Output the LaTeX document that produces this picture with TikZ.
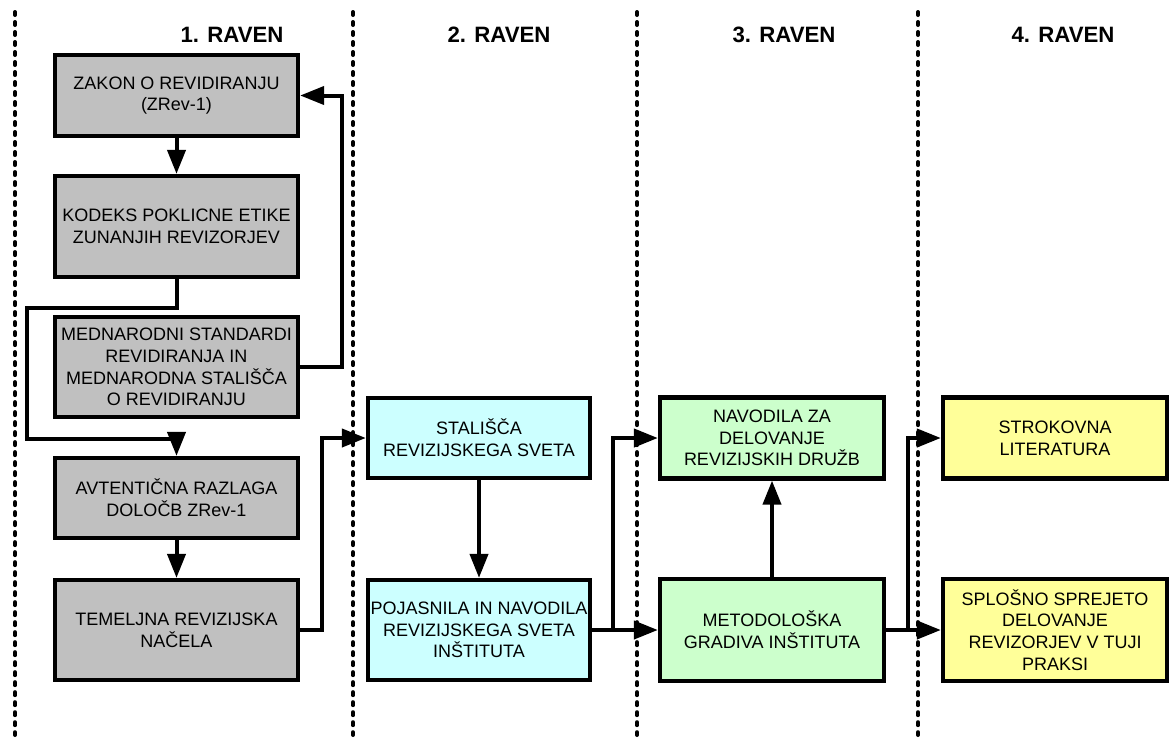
\documentclass[tikz,border=0pt]{standalone}
\usepackage{fontspec}
\setmainfont{Liberation Sans}
\usepackage{tikz}
\usetikzlibrary{arrows.meta}

\definecolor{boxgray}{HTML}{C0C0C0}
\definecolor{boxcyan}{HTML}{CCFFFF}
\definecolor{boxgreen}{HTML}{CCFFCC}
\definecolor{boxyellow}{HTML}{FFFF99}

\tikzset{
  box/.style={draw, line width=0.105cm, align=center, inner sep=0pt,
    font=\fontsize{12.8}{15.4}\selectfont},
  graybox/.style={box, fill=boxgray, minimum width=6.075cm},
  cyanbox/.style={box, fill=boxcyan, minimum width=5.55cm},
  greenbox/.style={box, fill=boxgreen, minimum width=5.6cm},
  yellowbox/.style={box, fill=boxyellow, minimum width=5.6cm},
  arr/.style={line width=0.1cm, -{Triangle[length=0.6cm, width=0.45cm]}},
  divider/.style={line width=0.1cm, line cap=round, dash pattern=on 0.075cm off 0.175cm},
  level/.style={font=\bfseries\fontsize{15.8}{19}\selectfont}
}

\begin{document}
\begin{tikzpicture}[x=0.025cm, y=-0.025cm]
    \useasboundingbox (0,0) rectangle (1170,738);

    % level dividers
    \foreach \xd in {15,353,637,918}
        \draw[divider] (\xd,12) -- (\xd,735);

    % level titles
    \node[level] (lev1) at (232,35) {1. RAVEN};
    \node[level] (lev2) at (499,35) {2. RAVEN};
    \node[level] (lev3) at (784,35) {3. RAVEN};
    \node[level] (lev4) at (1063,35) {4. RAVEN};

    % level 1
    \node[graybox, minimum height=2.025cm] (zakon) at (176.5,95.5) {ZAKON O REVIDIRANJU\\(ZRev-1)};
    \node[graybox, minimum height=2.525cm] (kodeks) at (176.5,226.5) {KODEKS POKLICNE ETIKE\\ZUNANJIH REVIZORJEV};
    \node[graybox, minimum height=2.5cm] (mednar) at (176.5,367) {MEDNARODNI STANDARDI\\REVIDIRANJA IN\\MEDNARODNA STALIŠČA\\O REVIDIRANJU};
    \node[graybox, minimum height=2cm] (avtent) at (176.5,498) {AVTENTIČNA RAZLAGA\\DOLOČB ZRev-1};
    \node[graybox, minimum height=2.5cm] (temelj) at (176.5,630) {TEMELJNA REVIZIJSKA\\NAČELA};

    % level 2
    \node[cyanbox, minimum height=2cm] (stal) at (479,438) {STALIŠČA\\REVIZIJSKEGA SVETA};
    \node[cyanbox, minimum height=2.5cm] (pojas) at (479,630) {POJASNILA IN NAVODILA\\REVIZIJSKEGA SVETA\\INŠTITUTA};

    % level 3
    \node[greenbox, minimum height=2.025cm] (navod) at (772,438) {NAVODILA ZA\\DELOVANJE\\REVIZIJSKIH DRUŽB};
    \node[greenbox, minimum height=2.55cm] (metod) at (772,630) {METODOLOŠKA\\GRADIVA INŠTITUTA};

    % level 4
    \node[yellowbox, minimum height=2.025cm] (strok) at (1055,438) {STROKOVNA\\LITERATURA};
    \node[yellowbox, minimum height=2.55cm] (splos) at (1055,630) {SPLOŠNO SPREJETO\\DELOVANJE\\REVIZORJEV V TUJI\\PRAKSI};

    % bend points
    \coordinate (loopL) at (27,308);
    \coordinate (loopB) at (27,439);
    \coordinate (backR) at (342,367);
    \coordinate (jog1) at (322,630);
    \coordinate (br2) at (613,630);
    \coordinate (br3) at (908,630);

    % connectors
    \draw[arr] (zakon) -- (kodeks);
    \draw[arr] (kodeks.south) |- (loopL) -- (loopB) -| (avtent.north);
    \draw[arr] (mednar.east) -- (backR) |- (zakon.east);
    \draw[arr] (avtent) -- (temelj);
    \draw[arr] (temelj.east) -- (jog1) |- (stal.west);
    \draw[arr] (stal) -- (pojas);
    \draw[arr] (pojas) -- (metod);
    \draw[arr] (br2) |- (navod.west);
    \draw[arr] (metod) -- (navod);
    \draw[arr] (metod) -- (splos);
    \draw[arr] (br3) |- (strok.west);
\end{tikzpicture}
\end{document}
